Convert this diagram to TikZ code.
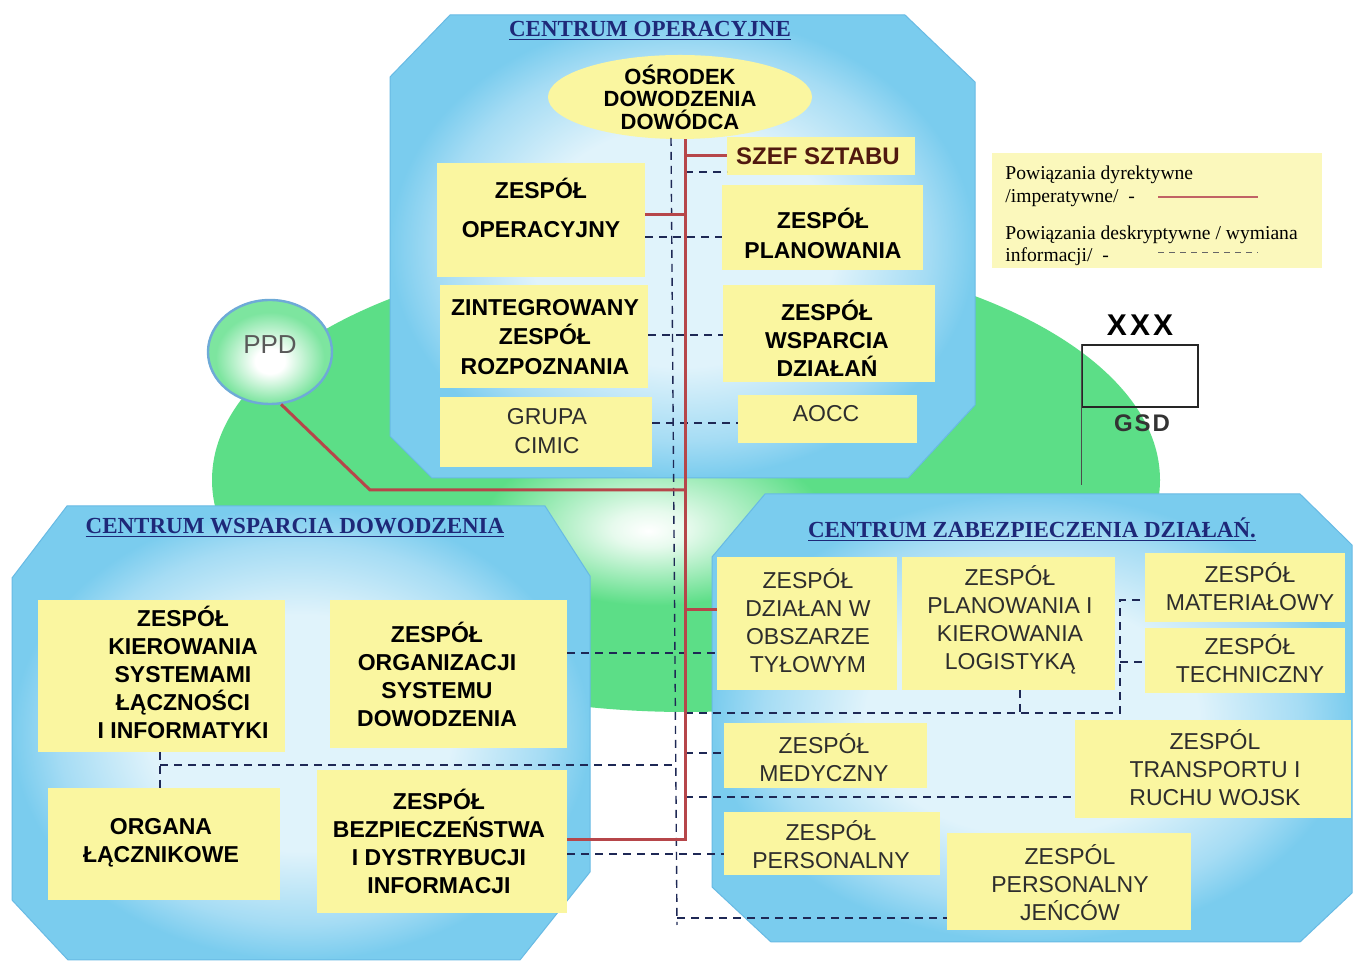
\documentclass[tikz,border=0pt]{standalone}
\usepackage{fontspec}
\setmainfont{Liberation Serif}
\setsansfont{Liberation Sans}
\usetikzlibrary{shapes.geometric}

\definecolor{panelout}{RGB}{122,204,238}
\definecolor{panelmid}{RGB}{165,220,244}
\definecolor{panelin}{RGB}{224,243,251}
\definecolor{paneledge}{RGB}{104,186,228}
\definecolor{boxfill}{RGB}{250,246,160}
\definecolor{legfill}{RGB}{251,248,188}
\definecolor{hill}{RGB}{92,222,135}
\definecolor{ppdedge}{RGB}{110,170,215}
\definecolor{impcol}{RGB}{182,70,74}
\definecolor{desccol}{RGB}{30,40,85}
\definecolor{titlecol}{RGB}{30,40,120}
\definecolor{szefcol}{RGB}{80,25,15}
\definecolor{thincol}{RGB}{45,45,45}

% soft fills for the centres, the hill and the PPD ball
\pgfdeclareradialshading{panelshade}{\pgfpoint{0bp}{0bp}}{color(0bp)=(panelin); color(13bp)=(panelin); color(21bp)=(panelmid); color(25bp)=(panelout); color(50bp)=(panelout)}
\pgfdeclareradialshading{hillshade}{\pgfpoint{-2bp}{-5.5bp}}{color(0bp)=(white); color(2bp)=(white!85!hill); color(9bp)=(hill); color(50bp)=(hill)}
\pgfdeclareradialshading{ppdshade}{\pgfpoint{0bp}{-5bp}}{color(0bp)=(white); color(6bp)=(white); color(22bp)=(hill!80!white); color(50bp)=(hill!80!white)}

% box from corner (x1,y1) to (x2,y2)
\newcommand\zbox[6]{\node[#6, minimum width={(#4-#2)*0.5pt}, minimum height={(#5-#3)*0.5pt}] (#1) at ({(#2+#4)/2},{(#3+#5)/2}) {};}
\newcommand\zbold[4]{\node[btxt] (#1) at (#2,#3) {#4};}
\newcommand\zthin[4]{\node[ttxt] (#1) at (#2,#3) {#4};}

\begin{document}
\begin{tikzpicture}[x=0.5pt,y=-0.5pt,
  ybox/.style={rectangle, fill=boxfill, draw=none, inner sep=0pt, outer sep=0pt},
  btxt/.style={font=\sffamily\bfseries\fontsize{11.5pt}{14pt}\selectfont, align=center, inner sep=0pt, text=black},
  ttxt/.style={font=\sffamily\fontsize{11.5pt}{14pt}\selectfont, align=center, inner sep=0pt, text=thincol},
  ttl/.style={font=\rmfamily\bfseries\fontsize{11.5pt}{14pt}\selectfont, text=titlecol, inner sep=0pt},
  legtxt/.style={font=\rmfamily\fontsize{9.8pt}{12pt}\selectfont, text=black, inner sep=0pt, anchor=west},
  panel/.style={shading=panelshade, draw=paneledge, line width=0.5pt},
  imp/.style={draw=impcol, line width=1.5pt},
  desc/.style={draw=desccol, line width=0.7pt, dash pattern=on 4pt off 3pt}]

\fill[white] (0,0) rectangle (1356,961);
\useasboundingbox (0,0) rectangle (1356,961);

% green hill behind the three centres
\shade[shading=hillshade] (686,480) ellipse [x radius=474, y radius=232];

% PPD ball
\node[ellipse, shading=ppdshade, draw=ppdedge, line width=1.2pt, minimum width=62pt, minimum height=52pt, inner sep=0pt] (ppd) at (270,352) {};
\node[font=\sffamily\fontsize{13pt}{15pt}\selectfont, text=black!65, inner sep=0pt] (ppd-txt) at (270,345) {PPD};

% the three centres
\shade[panel] (450,15) -- (905,15) -- (975,82) -- (975,405) -- (908,478) -- (432,478) -- (390,436) -- (390,77) -- cycle;
\shade[panel] (67,506) -- (545,506) -- (590,576) -- (590,872) -- (520,960) -- (68,960) -- (12,900) -- (12,578) -- cycle;
\shade[panel] (765,494) -- (1300,494) -- (1352,545) -- (1352,893) -- (1300,942) -- (771,942) -- (712,887) -- (712,557) -- cycle;

\node[ttl] (t-op) at (650,31) {\underline{CENTRUM OPERACYJNE}};
\node[ttl] (t-wd) at (295,528) {\underline{CENTRUM WSPARCIA DOWODZENIA}};
\node[ttl] (t-zd) at (1032,530) {\underline{CENTRUM ZABEZPIECZENIA DZIAŁAŃ.}};

% Centrum operacyjne
\node[ellipse, fill=boxfill, minimum width=132pt, minimum height=42pt, inner sep=0pt] (osr) at (680,97) {};
\node[btxt, font=\sffamily\bfseries\fontsize{11pt}{11.3pt}\selectfont] (osr-txt) at (680,97) {OŚRODEK\\DOWODZENIA\\DOWÓDCA};
\zbox{szef}{727}{137}{915}{175}{ybox}
\node[btxt, font=\sffamily\bfseries\fontsize{12pt}{14pt}\selectfont, text=szefcol] (szef-txt) at (818,156) {SZEF SZTABU};
\zbox{op}{437}{163}{645}{277}{ybox}
\zbold{op-txt}{541}{208}{ZESPÓŁ\\[5.5pt]OPERACYJNY}
\zbox{plan}{722}{185}{923}{270}{ybox}
\zbold{plan-txt}{823}{233}{ZESPÓŁ\\[1pt]PLANOWANIA}
\zbox{rozp}{440}{285}{648}{388}{ybox}
\zbold{rozp-txt}{545}{337}{ZINTEGROWANY\\[0.5pt]ZESPÓŁ\\[1pt]ROZPOZNANIA}
\zbox{wsp}{723}{285}{935}{382}{ybox}
\zbold{wsp-txt}{827}{338}{ZESPÓŁ\\WSPARCIA\\DZIAŁAŃ}
\zbox{cimic}{440}{397}{652}{467}{ybox}
\zthin{cimic-txt}{547}{431}{GRUPA\\[0.5pt]CIMIC}
\zbox{aocc}{738}{395}{917}{443}{ybox}
\zthin{aocc-txt}{826}{414}{AOCC}

% Centrum wsparcia dowodzenia
\zbox{kier}{38}{600}{285}{752}{ybox}
\zbold{kier-txt}{183}{672}{ZESPÓŁ\\KIEROWANIA\\SYSTEMAMI\\ŁĄCZNOŚCI\\I INFORMATYKI}
\zbox{org}{330}{600}{567}{748}{ybox}
\zbold{org-txt}{437}{674}{ZESPÓŁ\\ORGANIZACJI\\SYSTEMU\\DOWODZENIA}
\zbox{organa}{48}{788}{280}{900}{ybox}
\zbold{organa-txt}{161}{843}{ORGANA\\ŁĄCZNIKOWE}
\zbox{bezp}{317}{770}{567}{913}{ybox}
\zbold{bezp-txt}{439}{841}{ZESPÓŁ\\BEZPIECZEŃSTWA\\I DYSTRYBUCJI\\INFORMACJI}

% Centrum zabezpieczenia dzialan
\zbox{tyl}{717}{557}{897}{690}{ybox}
\zthin{tyl-txt}{808}{621}{ZESPÓŁ\\DZIAŁAN W\\OBSZARZE\\TYŁOWYM}
\zbox{log}{902}{557}{1115}{690}{ybox}
\zthin{log-txt}{1010}{620}{ZESPÓŁ\\PLANOWANIA I\\KIEROWANIA\\LOGISTYKĄ}
\zbox{mat}{1145}{553}{1345}{622}{ybox}
\zthin{mat-txt}{1250}{587}{ZESPÓŁ\\MATERIAŁOWY}
\zbox{tech}{1145}{628}{1345}{693}{ybox}
\zthin{tech-txt}{1250}{659}{ZESPÓŁ\\TECHNICZNY}
\zbox{med}{724}{723}{927}{788}{ybox}
\zthin{med-txt}{824}{758}{ZESPÓŁ\\MEDYCZNY}
\zbox{trans}{1075}{720}{1351}{818}{ybox}
\zthin{trans-txt}{1215}{768}{ZESPÓL\\TRANSPORTU I\\RUCHU WOJSK}
\zbox{pers}{724}{812}{940}{875}{ybox}
\zthin{pers-txt}{831}{845}{ZESPÓŁ\\PERSONALNY}
\zbox{jen}{947}{833}{1191}{930}{ybox}
\zthin{jen-txt}{1070}{883}{ZESPÓL\\PERSONALNY\\JEŃCÓW}

% legend
\zbox{leg}{992}{153}{1322}{268}{rectangle, fill=legfill, inner sep=0pt}
\node[legtxt] (leg-a) at (1005,175) {Powiązania dyrektywne};
\node[legtxt] (leg-b) at (1005,198) {/imperatywne/\ \ -};
\node[legtxt] (leg-c) at (1005,235) {Powiązania deskryptywne / wymiana};
\node[legtxt] (leg-d) at (1005,257) {informacji/\ \ -};
\coordinate (legimpA) at (1158,197);
\coordinate (legimpB) at (1258,197);
\coordinate (legdescA) at (1158,253);
\coordinate (legdescB) at (1258,253);
\draw[draw=impcol!85!white, line width=1.2pt] (legimpA) -- (legimpB);
\draw[draw=black!60, line width=0.5pt, dash pattern=on 3pt off 2.5pt] (legdescA) -- (legdescB);

% GSD unit symbol
\zbox{gsd}{1082}{345}{1198}{407}{rectangle, draw=black!85, line width=0.8pt, inner sep=0pt}
\coordinate (gsdfoot) at (1083,485);
\draw[draw=black!70, line width=0.6pt] (gsd.north west) -- (gsd.north west |- gsdfoot);
\node[font=\sffamily\bfseries\fontsize{15pt}{17pt}\selectfont, inner sep=0pt] (gsd-x) at (1140,325) {X\kern1.5pt X\kern1.5pt X};
\node[font=\sffamily\bfseries\fontsize{12pt}{14pt}\selectfont, text=black!80, inner sep=0pt] (gsd-txt) at (1142,423) {G\kern1pt S\kern1pt D};

% descriptive links (dashed)
\coordinate (busTop) at (671,138);
\coordinate (busBot) at (677,925);
\coordinate (trunk) at (685,140);
\coordinate (logA) at (1120,713);
\coordinate (logB) at (1120,600);
\coordinate (logC) at (1120,662);
\coordinate (logD) at (1020,713);
\coordinate (kierX) at (160,765);
\draw[desc] (busTop) -- (busBot);
\draw[desc] (trunk |- 0,172) -- (szef.west |- 0,172);
\draw[desc] (op.east |- 0,237) -- (plan.west |- 0,237);
\draw[desc] (rozp.east |- 0,335) -- (wsp.west |- 0,335);
\draw[desc] (cimic.east |- 0,423) -- (aocc.west |- 0,423);
\draw[desc] (org.east |- 0,653) -- (tyl.west |- 0,653);
\draw[desc] (trunk |- logA) -- (logA) -- (logB) -- (mat.west |- logB);
\draw[desc] (logC) -- (tech.west |- logC);
\draw[desc] (log.south -| logD) -- (logD);
\draw[desc] (trunk |- 0,753) -- (med.west |- 0,753);
\draw[desc] (kier.south -| kierX) -- (organa.north -| kierX);
\draw[desc] (kierX) -- (busBot |- kierX);
\draw[desc] (trunk |- 0,797) -- (trans.west |- 0,797);
\draw[desc] (bezp.east |- 0,854) -- (pers.west |- 0,854);
\draw[desc] (busBot |- 0,918) -- (jen.west |- 0,918);

% directive links (solid red)
\coordinate (ppdknee) at (370,490);
\draw[imp] (osr.south -| trunk) -- (trunk |- 0,840) -- (bezp.east |- 0,840);
\draw[imp] (trunk |- szef.west) -- (szef.west);
\draw[imp] (op.east |- 0,215) -- (trunk |- 0,215);
\draw[imp] (ppd.-78) -- (ppdknee) -- (trunk |- ppdknee);
\draw[imp] (trunk |- 0,610) -- (tyl.west |- 0,610);
\end{tikzpicture}
\end{document}
